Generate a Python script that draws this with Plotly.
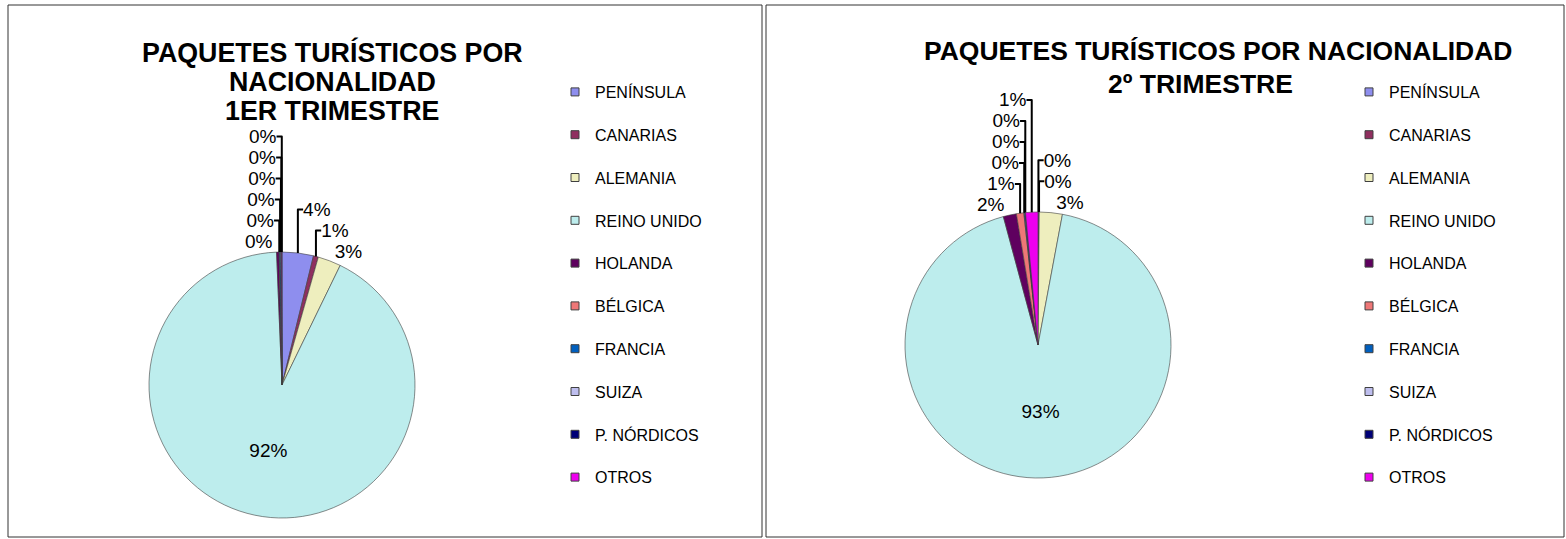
import plotly.graph_objects as go

categories = ["PENÍNSULA", "CANARIAS", "ALEMANIA", "REINO UNIDO", "HOLANDA",
              "BÉLGICA", "FRANCIA", "SUIZA", "P. NÓRDICOS", "OTROS"]
q1_values = [3.8, 0.6, 2.8, 92.0, 0.3, 0.05, 0.15, 0.05, 0.05, 0.05]
q2_values = [0.1, 0.05, 2.8, 93.0, 1.6, 0.9, 0.1, 0.05, 0.05, 1.5]
colors = ["#8E8EEE", "#8F2F5F", "#EEEEBE", "#BDEDED", "#5F005F",
          "#EE7777", "#005FBE", "#BEBEEE", "#000077", "#EE00EE"]
title_q1_lines = ["PAQUETES TURÍSTICOS POR", "NACIONALIDAD", "1ER TRIMESTRE"]
title_q2_lines = ["PAQUETES TURÍSTICOS POR NACIONALIDAD", "2º TRIMESTRE"]

W, H = 1566, 539
FONT = "Liberation Sans, Arial, sans-serif"


def px_x(v):
    return v / W


def px_y(v):
    return 1 - v / H


fig = go.Figure()

positions = ["inside" if c == "REINO UNIDO" else "outside" for c in categories]

pie_common = dict(
    labels=categories, sort=False, direction="clockwise", rotation=0,
    marker=dict(colors=colors, line=dict(color="#404040", width=0.6)),
    texttemplate="%{percent:.0%}", textposition=positions,
    textfont=dict(family=FONT, size=19, color="black"),
    showlegend=False,
)

D = 266  # pie diameter in pixels
cx1, cy1 = 282, 385
cx2, cy2 = 1038, 345
fig.add_trace(go.Pie(
    values=q1_values, name="1er trimestre",
    domain=dict(x=[px_x(cx1 - D / 2), px_x(cx1 + D / 2)],
                y=[px_y(cy1 + D / 2), px_y(cy1 - D / 2)]),
    **pie_common,
))
fig.add_trace(go.Pie(
    values=q2_values, name="2º trimestre",
    domain=dict(x=[px_x(cx2 - D / 2), px_x(cx2 + D / 2)],
                y=[px_y(cy2 + D / 2), px_y(cy2 - D / 2)]),
    **pie_common,
))

# legend entries (one group per category so that items are spaced apart)
for leg in ["legend", "legend2"]:
    for cat, col in zip(categories, colors):
        fig.add_trace(go.Scatter(
            x=[None], y=[None], mode="markers", name=cat,
            marker=dict(symbol="square", size=8, color=col,
                        line=dict(color="#404040", width=1)),
            legendgroup=leg + cat, legend=leg, showlegend=True,
            hoverinfo="skip",
        ))

legend_common = dict(
    font=dict(family=FONT, size=16, color="black"),
    tracegroupgap=19, itemwidth=30, indentation=-12,
    bgcolor="rgba(0,0,0,0)",
    xanchor="left", yanchor="top", orientation="v",
)

annotations = []
for line, yy in zip(title_q1_lines, [52, 82, 111]):
    annotations.append(dict(
        text="<b>" + line + "</b>", xref="paper", yref="paper",
        x=px_x(332), y=px_y(yy), xanchor="center", yanchor="middle",
        showarrow=False, font=dict(family=FONT, size=26.8, color="black")))
for line, xx, yy in zip(title_q2_lines, [1218, 1200], [51, 84]):
    annotations.append(dict(
        text="<b>" + line + "</b>", xref="paper", yref="paper",
        x=px_x(xx), y=px_y(yy), xanchor="center", yanchor="middle",
        showarrow=False, font=dict(family=FONT, size=26.5, color="black")))

fig.update_layout(
    width=W, height=H,
    margin=dict(l=0, r=0, t=0, b=0),
    paper_bgcolor="white", plot_bgcolor="white",
    font=dict(family=FONT, color="black"),
    xaxis=dict(visible=False), yaxis=dict(visible=False),
    legend=dict(x=px_x(567), y=px_y(75), **legend_common),
    legend2=dict(x=px_x(1361), y=px_y(75), **legend_common),
    shapes=[
        dict(type="rect", xref="paper", yref="paper",
             x0=px_x(8), x1=px_x(762), y0=px_y(537), y1=px_y(5),
             line=dict(color="#333333", width=1)),
        dict(type="rect", xref="paper", yref="paper",
             x0=px_x(766), x1=px_x(1564), y0=px_y(537), y1=px_y(5),
             line=dict(color="#333333", width=1)),
    ],
    annotations=annotations,
)

fig.write_html("out.html", config={"displayModeBar": False},
               post_script="document.body.style.margin='0';")
